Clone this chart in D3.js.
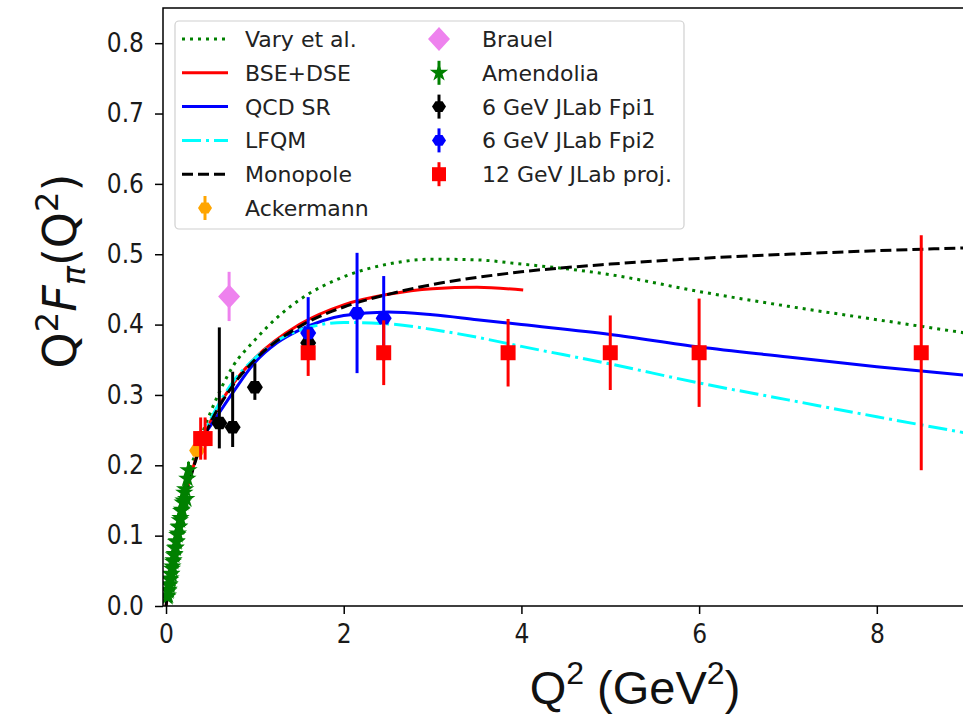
<!DOCTYPE html>
<html>
<head>
<meta charset="utf-8">
<script src="https://cdn.jsdelivr.net/npm/d3@7"></script>
<style>
  body { margin: 0; background: #fff; }
  svg { display: block; }
</style>
</head>
<body>
<script>
// ---- curves ----
var varyQ2  = [0.25, 0.35, 0.5, 0.75, 1.0, 1.25, 1.5, 2.0, 2.5, 3.0, 3.5, 4.0, 4.66, 5.0, 6.0, 7.0, 8.0, 9.0];
var varyVal = [0.185, 0.225, 0.275, 0.34, 0.378, 0.41, 0.435, 0.468, 0.486, 0.493, 0.492, 0.486, 0.477, 0.471, 0.447, 0.426, 0.407, 0.388];

var bseQ2  = [0.0, 0.1, 0.2, 0.3, 0.5, 0.75, 1.0, 1.5, 2.0, 2.5, 3.0, 3.5, 4.02];
var bseVal = [0.0, 0.085, 0.148, 0.195, 0.262, 0.315, 0.352, 0.4, 0.428, 0.443, 0.451, 0.453, 0.449];

var qcdQ2  = [0.4, 0.5, 0.75, 1.0, 1.25, 1.5, 2.0, 2.5, 3.0, 3.5, 4.0, 5.0, 6.0, 7.0, 8.0, 9.0];
var qcdVal = [0.238, 0.256, 0.303, 0.346, 0.374, 0.392, 0.413, 0.418, 0.414, 0.407, 0.4, 0.386, 0.368, 0.354, 0.34, 0.328];

var lfqmQ2  = [0.35, 0.5, 0.75, 1.0, 1.25, 1.5, 2.0, 2.5, 3.0, 3.5, 4.0, 5.0, 6.0, 7.0, 8.0, 9.0];
var lfqmVal = [0.225, 0.265, 0.318, 0.352, 0.377, 0.392, 0.403, 0.401, 0.393, 0.382, 0.369, 0.344, 0.317, 0.293, 0.269, 0.246];

var monoQ2  = [0.0, 0.1, 0.2, 0.3, 0.4, 0.5, 0.75, 1.0, 1.5, 2.0, 2.5, 3.0, 3.5, 4.0, 5.0, 6.0, 7.0, 8.0, 9.0];
var monoVal = [0.0, 0.084, 0.146, 0.193, 0.231, 0.26, 0.313, 0.35, 0.397, 0.425, 0.443, 0.457, 0.467, 0.475, 0.486, 0.494, 0.5, 0.505, 0.509];

// ---- data points ----
var ackQ2 = [0.35], ackVal = [0.221], ackErr = [0.008];
var brauelQ2 = [0.71], brauelVal = [0.44], brauelErr = [0.035];

var amQ2  = [0.015, 0.020, 0.025, 0.030, 0.035, 0.040, 0.045, 0.050, 0.055, 0.060, 0.066, 0.072, 0.078, 0.084, 0.090, 0.096, 0.102, 0.108, 0.114, 0.120, 0.127, 0.134, 0.141, 0.148, 0.155, 0.163, 0.171, 0.179, 0.188, 0.197, 0.206, 0.216, 0.227, 0.240, 0.253];
var amVal = [0.013, 0.015, 0.021, 0.023, 0.029, 0.031, 0.037, 0.039, 0.045, 0.046, 0.053, 0.056, 0.063, 0.065, 0.072, 0.074, 0.082, 0.083, 0.091, 0.092, 0.101, 0.103, 0.112, 0.113, 0.122, 0.125, 0.135, 0.137, 0.147, 0.150, 0.161, 0.166, 0.152, 0.181, 0.193];
var amErr = [0.005, 0.005, 0.005, 0.005, 0.005, 0.006, 0.006, 0.006, 0.006, 0.006, 0.006, 0.007, 0.007, 0.007, 0.007, 0.007, 0.007, 0.008, 0.008, 0.008, 0.008, 0.008, 0.009, 0.009, 0.009, 0.009, 0.009, 0.01, 0.01, 0.01, 0.01, 0.011, 0.011, 0.011, 0.012];

var fpi1Q2 = [0.60, 0.75, 1.00, 1.60];
var fpi1Val = [0.260, 0.254, 0.311, 0.374];
var fpi1Lo = [0.224, 0.226, 0.293, 0.364];
var fpi1Hi = [0.396, 0.333, 0.345, 0.384];

var fpi2Q2 = [1.60, 2.15, 2.45];
var fpi2Val = [0.388, 0.416, 0.409];
var fpi2Lo = [0.371, 0.331, 0.349];
var fpi2Hi = [0.439, 0.502, 0.469];

var projQ2 = [0.39, 0.44, 1.60, 2.45, 3.85, 5.00, 6.00, 8.50];
var projVal = [0.238, 0.238, 0.36, 0.36, 0.36, 0.36, 0.36, 0.36];
var projErr = [0.03, 0.03, 0.033, 0.046, 0.048, 0.053, 0.077, 0.167];

var xTicks = [0, 2, 4, 6, 8];
var yTicks = [0.0, 0.1, 0.2, 0.3, 0.4, 0.5, 0.6, 0.7, 0.8];

const WIDTH = 963, HEIGHT = 714;
const LEFT = 163, TOP = 8, BOTTOM = 606, RIGHT = 963;

var xScale = d3.scaleLinear().domain([-0.034, 8.97]).range([LEFT, RIGHT]);
var yScale = d3.scaleLinear().domain([0, 0.85]).range([BOTTOM, TOP]);

var svg = d3.select("body").append("svg")
    .attr("width", WIDTH).attr("height", HEIGHT);

svg.append("clipPath").attr("id", "plot")
  .append("rect").attr("x", LEFT).attr("y", TOP)
  .attr("width", RIGHT - LEFT + 10).attr("height", BOTTOM - TOP);

var plot = svg.append("g").attr("clip-path", "url(#plot)");

// curves
var line = d3.line().x(d => xScale(d[0])).y(d => yScale(d[1])).curve(d3.curveMonotoneX);
var curves = [
  {q: varyQ2, v: varyVal, color: "green", dash: "3,5"},
  {q: bseQ2, v: bseVal, color: "red", dash: null},
  {q: qcdQ2, v: qcdVal, color: "blue", dash: null},
  {q: lfqmQ2, v: lfqmVal, color: "cyan", dash: "19,5,3,5"},
  {q: monoQ2, v: monoVal, color: "black", dash: "11,5"}
];
curves.forEach(c => {
  plot.append("path")
    .datum(d3.zip(c.q, c.v))
    .attr("d", line)
    .attr("fill", "none")
    .attr("stroke", c.color)
    .attr("stroke-width", 3)
    .attr("stroke-dasharray", c.dash);
});

// marker shapes
function hexPath(r) {
  var pts = d3.range(6).map(i => {
    var a = Math.PI / 3 * i;
    return [r * Math.cos(a), r * 0.9 * Math.sin(a)];
  });
  return "M" + pts.join("L") + "Z";
}
function diamondPath(w, h) {
  return `M0,${-h}L${w},0L0,${h}L${-w},0Z`;
}
function squarePath(s) {
  return `M${-s},${-s}H${s}V${s}H${-s}Z`;
}
var starPath = d3.symbol().type(d3.symbolStar).size(105)();

function errorSeries(q, v, lo, hi, color, shape) {
  var g = plot.append("g");
  var pts = d3.range(q.length).map(i => ({x: q[i], y: v[i], lo: lo[i], hi: hi[i]}));
  g.selectAll("line").data(pts).enter().append("line")
    .attr("x1", d => xScale(d.x)).attr("x2", d => xScale(d.x))
    .attr("y1", d => yScale(d.lo)).attr("y2", d => yScale(d.hi))
    .attr("stroke", color).attr("stroke-width", 3);
  g.selectAll("path").data(pts).enter().append("path")
    .attr("d", shape)
    .attr("transform", d => `translate(${xScale(d.x)},${yScale(d.y)})`)
    .attr("fill", color);
}

errorSeries(ackQ2, ackVal, ackVal.map((v, i) => v - ackErr[i]), ackVal.map((v, i) => v + ackErr[i]), "orange", hexPath(8));
errorSeries(brauelQ2, brauelVal, brauelVal.map((v, i) => v - brauelErr[i]), brauelVal.map((v, i) => v + brauelErr[i]), "violet", diamondPath(11, 12));
errorSeries(amQ2, amVal, amVal.map((v, i) => v - amErr[i]), amVal.map((v, i) => v + amErr[i]), "green", starPath);
errorSeries(fpi1Q2, fpi1Val, fpi1Lo, fpi1Hi, "black", hexPath(8));
errorSeries(fpi2Q2, fpi2Val, fpi2Lo, fpi2Hi, "blue", hexPath(8));
errorSeries(projQ2, projVal, projVal.map((v, i) => v - projErr[i]), projVal.map((v, i) => v + projErr[i]), "red", squarePath(7.5));

// axes
var tickFont = "'DejaVu Sans Condensed', 'DejaVu Sans', sans-serif";
var yAxis = svg.append("g")
  .attr("transform", `translate(${LEFT},0)`)
  .call(d3.axisLeft(yScale).tickValues(yTicks).tickFormat(d3.format(".1f")).tickSize(8).tickPadding(11).tickSizeOuter(0));
var xAxis = svg.append("g")
  .attr("transform", `translate(0,${BOTTOM})`)
  .call(d3.axisBottom(xScale).tickValues(xTicks).tickFormat(d3.format("d")).tickSize(8).tickPadding(11).tickSizeOuter(0));
[xAxis, yAxis].forEach(a => {
  a.selectAll(".domain").remove();
  a.selectAll(".tick line").attr("stroke", "#000").attr("stroke-width", 1.5);
  a.selectAll(".tick text")
    .attr("font-family", tickFont).attr("font-stretch", "condensed")
    .attr("font-size", 26).attr("fill", "#1a1a1a");
});

// spines
svg.append("path")
  .attr("d", `M${RIGHT + 5},${TOP}H${LEFT}V${BOTTOM}H${RIGHT + 5}`)
  .attr("fill", "none").attr("stroke", "#000").attr("stroke-width", 1.5);

// axis labels
var xl = svg.append("text")
  .attr("x", 635).attr("y", 704)
  .attr("text-anchor", "middle")
  .attr("font-family", "'Liberation Sans', Arial, sans-serif")
  .attr("font-size", 47).attr("fill", "#111");
xl.append("tspan").text("Q");
xl.append("tspan").attr("font-size", 32).attr("dy", -20).text("2");
xl.append("tspan").attr("dy", 20).text(" (GeV");
xl.append("tspan").attr("font-size", 32).attr("dy", -20).text("2");
xl.append("tspan").attr("dy", 20).text(")");

var yl = svg.append("text")
  .attr("transform", "translate(76,271) rotate(-90)")
  .attr("text-anchor", "middle")
  .attr("font-family", "'DejaVu Sans', sans-serif")
  .attr("font-size", 46).attr("fill", "#111");
yl.append("tspan").text("Q");
yl.append("tspan").attr("font-size", 32).attr("dy", -18).text("2");
yl.append("tspan").attr("dy", 18).attr("font-style", "italic").text("F");
yl.append("tspan").attr("font-size", 32).attr("dy", 9).attr("font-style", "italic").text("π");
yl.append("tspan").attr("dy", -9).text("(Q");
yl.append("tspan").attr("font-size", 32).attr("dy", -18).text("2");
yl.append("tspan").attr("dy", 18).text(")");

// legend
var legend = svg.append("g");
legend.append("rect")
  .attr("x", 175).attr("y", 21).attr("width", 509).attr("height", 208)
  .attr("rx", 4).attr("fill", "#fff").attr("fill-opacity", 0.8)
  .attr("stroke", "#d0d0d0").attr("stroke-width", 1.2);

var lineItems = [
  {name: "Vary et al.", color: "green", dash: "3,5"},
  {name: "BSE+DSE", color: "red", dash: null},
  {name: "QCD SR", color: "blue", dash: null},
  {name: "LFQM", color: "cyan", dash: "19,5,3,5"},
  {name: "Monopole", color: "black", dash: "11,5"}
];
var markItems = [
  {name: "Ackermann", color: "orange", shape: hexPath(7), bar: true, col: 0, row: 5},
  {name: "Brauel", color: "violet", shape: diamondPath(11, 12), bar: false, col: 1, row: 0},
  {name: "Amendolia", color: "green", shape: starPath, bar: true, col: 1, row: 1},
  {name: "6 GeV JLab Fpi1", color: "black", shape: hexPath(7), bar: true, col: 1, row: 2},
  {name: "6 GeV JLab Fpi2", color: "blue", shape: hexPath(7), bar: true, col: 1, row: 3},
  {name: "12 GeV JLab proj.", color: "red", shape: squarePath(7), bar: true, col: 1, row: 4}
];
var rowY = i => 39 + i * 33.8;
var legFont = "'DejaVu Sans', sans-serif";

lineItems.forEach((d, i) => {
  legend.append("line")
    .attr("x1", 182).attr("x2", 228).attr("y1", rowY(i)).attr("y2", rowY(i))
    .attr("stroke", d.color).attr("stroke-width", 3).attr("stroke-dasharray", d.dash);
  legend.append("text").attr("x", 245).attr("y", rowY(i)).attr("dy", "0.36em")
    .attr("font-family", legFont).attr("font-size", 22).attr("fill", "#222").text(d.name);
});
markItems.forEach(d => {
  var cx = d.col === 0 ? 205 : 439, cy = rowY(d.row);
  if (d.bar) {
    legend.append("line").attr("x1", cx).attr("x2", cx).attr("y1", cy - 12).attr("y2", cy + 12)
      .attr("stroke", d.color).attr("stroke-width", 3);
  }
  legend.append("path").attr("d", d.shape).attr("transform", `translate(${cx},${cy})`).attr("fill", d.color);
  legend.append("text").attr("x", d.col === 0 ? 245 : 482).attr("y", cy).attr("dy", "0.36em")
    .attr("font-family", legFont).attr("font-size", 22).attr("fill", "#222").text(d.name);
});
</script>
</body>
</html>
